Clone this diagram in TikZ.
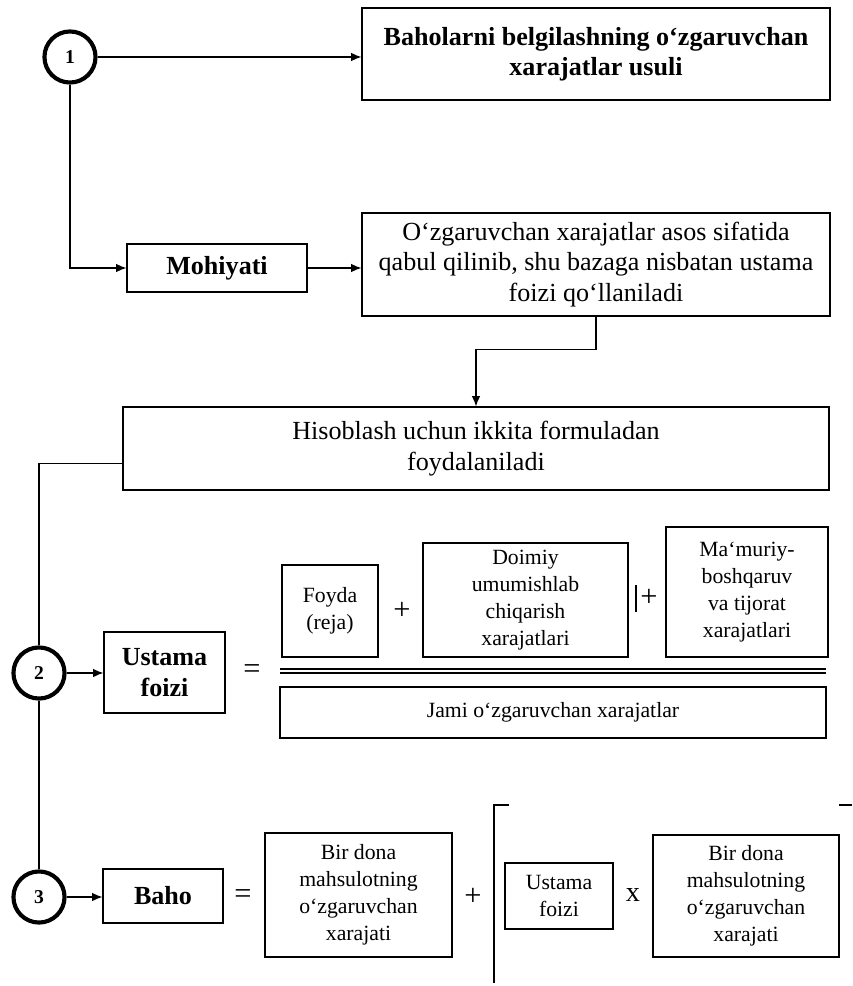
\documentclass[tikz,border=0pt]{standalone}
\usepackage{fontspec}
\setmainfont{Liberation Serif}
\usepackage{tikz}
\usetikzlibrary{arrows.meta,calc,positioning}

\tikzset{
  box/.style={draw=black,line width=0.5pt,align=center,inner sep=2pt,
    font=\fontsize{12}{14}\selectfont},
  smallbox/.style={box,font=\fontsize{10}{12.5}\selectfont},
  boldbox/.style={box,font=\fontsize{12}{14}\selectfont\bfseries},
  stepnum/.style={circle,draw=black,line width=1.9pt,minimum size=23.5pt,
    inner sep=0pt,font=\fontsize{9}{10}\selectfont\bfseries},
  wh/.style 2 args={minimum width=#1*0.46pt,minimum height=#2*0.46pt},
  link/.style={line width=0.6pt,-{Latex[length=4.8pt,width=4pt]}},
  plainlink/.style={line width=0.6pt},
  opsign/.style={inner sep=0pt,font=\fontsize{14}{14}\selectfont}
}

\begin{document}
\begin{tikzpicture}[x=0.46pt,y=-0.46pt]
  \useasboundingbox (0,0) rectangle (852,986);
  % stages
  \node[stepnum] (n1) at (70,57) {1};
  \node[stepnum] (n2) at (39,673) {2};
  \node[stepnum] (n3) at (39,897) {3};
  % top part
  \node[boldbox,wh={468}{92}] (title) at (596,54) {
    Baholarni belgilashning o‘zgaruvchan\\xarajatlar usuli};
  \node[boldbox,wh={180}{48}] (mohiyat) at (217,268) {Mohiyati};
  \node[box,wh={468}{103}] (mohtext) at (596,264.5) {
    O‘zgaruvchan xarajatlar asos sifatida\\
    qabul qilinib, shu bazaga nisbatan ustama\\foizi qo‘llaniladi};
  \node[box,wh={706}{83}] (hisob) at (476,448.5) {
    Hisoblash uchun ikkita formuladan\\foydalaniladi};
  % formula 1
  \node[boldbox,wh={121}{81}] (ustama) at (164.5,672.5) {Ustama\\foizi};
  \node[opsign] (eq1) at (252,672) {=};
  \node[smallbox,wh={96}{92}] (foyda) at (330,611) {Foyda\\(reja)};
  \node[opsign] (plus1) at (402,611) {+};
  \node[smallbox,wh={205}{114}] (doimiy) at (525.5,600) {
    Doimiy\\umumishlab\\chiqarish\\xarajatlari};
  \node[opsign] (plus2) at (649,598) {+};
  \node[smallbox,wh={162}{130}] (mamuriy) at (747,592) {
    Ma‘muriy-\\boshqaruv\\va tijorat\\xarajatlari};
  \node[smallbox,wh={546}{51}] (jami) at (553,712.5) {
    Jami o‘zgaruvchan xarajatlar};
  \draw[line width=0.8pt] (280,669) -- (826,669);
  \draw[line width=0.5pt] (280,673) -- (826,673);
  \draw[line width=0.5pt] (636,585) -- (636,612);
  % formula 2
  \node[boldbox,wh={120}{54}] (baho) at (163,896) {Baho};
  \node[opsign] (eq2) at (243,897) {=};
  \node[smallbox,wh={187}{124}] (bir1) at (358.5,895) {
    Bir dona\\mahsulotning\\o‘zgaruvchan\\xarajati};
  \node[opsign] (plus3) at (473,897) {+};
  \node[smallbox,wh={108}{66}] (ustama2) at (559,896) {Ustama\\foizi};
  \node[opsign,font=\fontsize{13}{13}\selectfont] (times) at (633,895) {x};
  \node[smallbox,wh={186}{122}] (bir2) at (746,896) {
    Bir dona\\mahsulotning\\o‘zgaruvchan\\xarajati};
  \draw[line width=0.5pt] (509,805) -- (494,805) -- (494,983);
  \draw[line width=0.5pt] (839,805) -- (852,805);
  % connectors
  \draw[link] (n1.east) -- (n1.east -| title.west);
  \draw[link] (n1.south) |- (mohiyat.west);
  \draw[link] (mohiyat.east) -- (mohiyat.east -| mohtext.west);
  \draw[link] (mohtext.south) -- ++(0,33) -| (hisob.north);
  \draw[plainlink] ($(hisob.south west)+(0,-27)$) -| (n2.north);
  \draw[link] (n2.east) -- (n2.east -| ustama.west);
  \draw[plainlink] (n2.south) -- (n3.north);
  \draw[link] (n3.east) -- (n3.east -| baho.west);
\end{tikzpicture}
\end{document}
